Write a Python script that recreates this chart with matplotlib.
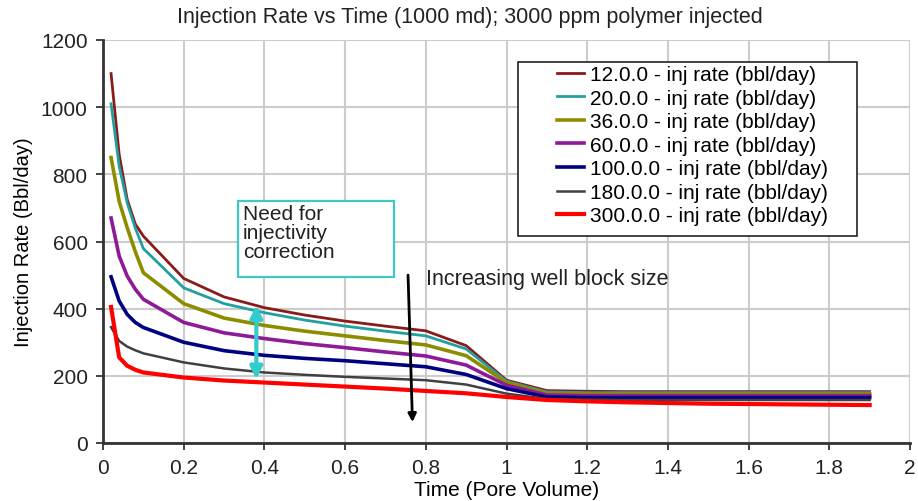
import matplotlib.pyplot as plt
from matplotlib.patches import Rectangle

plt.rcParams['font.family'] = ['Liberation Sans', 'DejaVu Sans']

# time in pore volumes
pv = [0.02, 0.04, 0.06, 0.08, 0.1, 0.2, 0.3, 0.4, 0.5, 0.6, 0.7, 0.8, 0.9,
      1.0, 1.1, 1.2, 1.3, 1.4, 1.5, 1.6, 1.7, 1.8, 1.9]

labels = ['12.0.0 - inj rate (bbl/day)', '20.0.0 - inj rate (bbl/day)',
          '36.0.0 - inj rate (bbl/day)', '60.0.0 - inj rate (bbl/day)',
          '100.0.0 - inj rate (bbl/day)', '180.0.0 - inj rate (bbl/day)',
          '300.0.0 - inj rate (bbl/day)']

rate_12 = [1100, 860, 725, 652, 616, 490, 435, 403, 381, 363, 348, 334, 290,
           187, 156, 154, 153, 153, 153, 153, 153, 153, 153]
rate_20 = [1010, 825, 715, 640, 579, 462, 415, 388, 366, 348, 333, 319, 280,
           184, 152, 150, 150, 150, 150, 150, 150, 150, 150]
rate_36 = [850, 720, 641, 570, 507, 415, 372, 350, 333, 319, 305, 292, 260,
           180, 148, 146, 146, 146, 146, 146, 146, 146, 146]
rate_60 = [670, 557, 497, 458, 428, 359, 328, 311, 296, 284, 271, 259, 232,
           172, 143, 141, 141, 141, 141, 141, 141, 141, 141]
rate_100 = [495, 423, 383, 359, 344, 300, 275, 261, 252, 245, 236, 227, 204,
            162, 137, 135, 135, 135, 135, 135, 135, 135, 135]
rate_180 = [345, 304, 287, 276, 267, 240, 222, 210, 203, 197, 192, 187, 174,
            147, 131, 129, 128, 128, 128, 128, 128, 128, 128]
rate_300 = [405, 255, 230, 218, 210, 195, 186, 180, 174, 168, 162, 155, 148,
            137, 128, 124, 121, 119, 117, 116, 115, 114, 113]

series = [rate_12, rate_20, rate_36, rate_60, rate_100, rate_180, rate_300]
colors = ['#8b1a1a', '#22a0a0', '#8c8c00', '#8e1a9a', '#000080', '#404040', '#ff0000']
widths = [2, 2, 2.6, 2.6, 2.6, 1.8, 3]

fig = plt.figure(figsize=(9.18, 5.02), dpi=100)
ax = fig.add_axes([103/918, 58/502, 807/918, 403/502])

for y, c, w, lab in zip(series, colors, widths, labels):
    ax.plot(pv, y, color=c, lw=w, label=lab)

ax.set_xlim(0, 2)
ax.set_ylim(0, 1200)
ax.set_xticks([0, 0.2, 0.4, 0.6, 0.8, 1, 1.2, 1.4, 1.6, 1.8, 2])
ax.set_xticklabels(['0', '0.2', '0.4', '0.6', '0.8', '1', '1.2', '1.4', '1.6', '1.8', '2'])
ax.set_yticks(range(0, 1201, 200))
ax.grid(True, color='#cccccc', lw=1.5)
ax.set_axisbelow(True)
for s in ['top', 'right']:
    ax.spines[s].set_visible(False)
for s in ['left', 'bottom']:
    ax.spines[s].set_color('#333333')
    ax.spines[s].set_linewidth(2)
ax.tick_params(labelsize=15, colors='#222222', length=5, width=1.2, pad=6)
ax.tick_params(axis='x', pad=6)

ax.set_xlabel('Time (Pore Volume)', fontsize=15, labelpad=2)
ax.set_ylabel('Injection Rate (Bbl/day)', fontsize=14.5, labelpad=6)
fig.text(470/918, 1 - 18/502, 'Injection Rate vs Time (1000 md); 3000 ppm polymer injected',
         ha='center', va='center', fontsize=15.5, color='#222222')

# legend frame drawn separately (reference has wide left margin)
ax.add_patch(Rectangle(((518-103)/807, (444-237)/403), (857-518)/807, (237-63)/403,
                       transform=ax.transAxes, fc='white', ec='#222222', lw=1.2, zorder=4.5))
leg = ax.legend(loc='upper left', bbox_to_anchor=((557-103)/807, (444-66)/403),
                fontsize=15, frameon=False, handlelength=1.3, handletextpad=0.3,
                labelspacing=0.22, borderpad=0, borderaxespad=0)
leg.set_zorder(6)

# annotation box and arrows
ax.add_patch(Rectangle((0.3346, 494), 0.3866, 227, fill=True, fc='white',
                       ec='#40c8c8', lw=1.6, zorder=3))
ax.text(0.347, 713, 'Need for\ninjectivity\ncorrection', fontsize=15, va='top', ha='left',
        color='#222222', linespacing=1.0, zorder=4)
ax.annotate('', xy=(0.38, 190), xytext=(0.38, 410),
            arrowprops=dict(arrowstyle='<|-|>', color='#33cccc', lw=3,
                            mutation_scale=18, shrinkA=0, shrinkB=0))
ax.annotate('', xy=(0.767, 62), xytext=(0.756, 500),
            arrowprops=dict(arrowstyle='-|>', color='black', lw=2,
                            mutation_scale=12, shrinkA=0, shrinkB=0))
ax.text(0.80, 490, 'Increasing well block size', fontsize=15.5, va='center', color='#222222')

fig.savefig('out.png', dpi=100)
